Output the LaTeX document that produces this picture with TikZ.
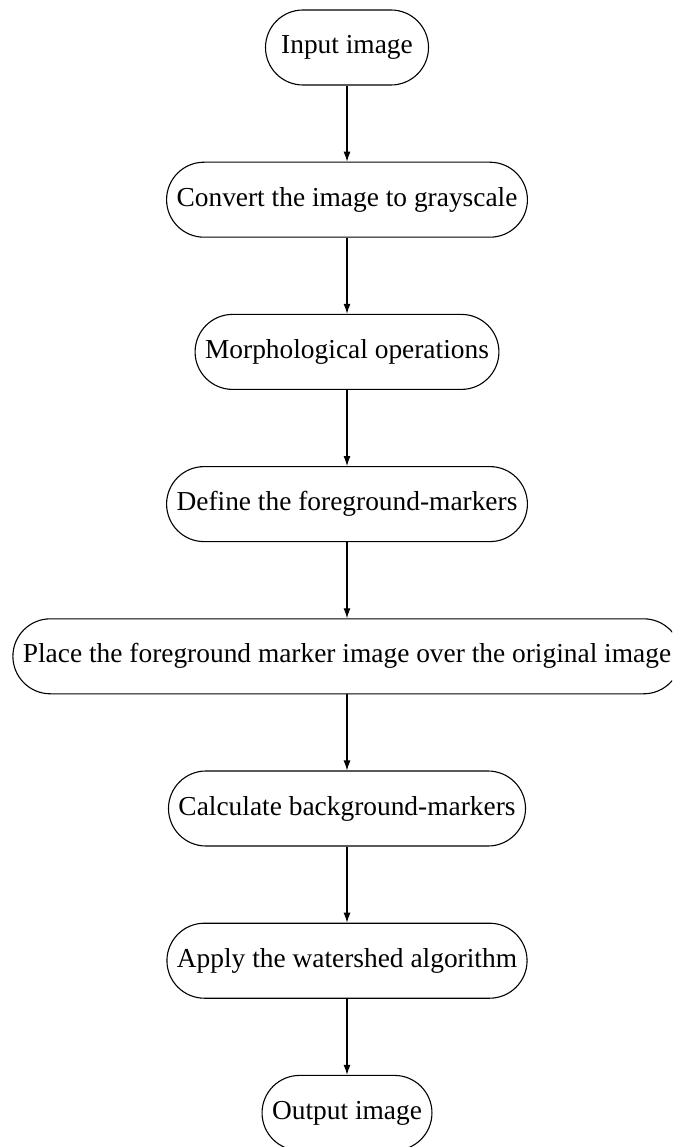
\documentclass[tikz,border=0pt]{standalone}
\usepackage{fontspec}
\setmainfont{Liberation Serif}
\usetikzlibrary{arrows.meta}
\begin{document}
\begin{tikzpicture}[x=1pt,y=1pt,
  flowbox/.style={draw, line width=1.1pt, rectangle, rounded corners=37.5pt,
    minimum height=75pt, minimum width=163pt, inner xsep=10pt,
    font=\fontsize{27.4pt}{33pt}\selectfont},
  flowarrow/.style={draw, line width=1.1pt, -{Latex[length=10pt,width=7pt]}}]
\clip (0,0) rectangle (672,-1147);
\useasboundingbox (0,0) rectangle (672,-1147);
\node[flowbox] (n1) at (347,-47.5) {Input image};
\node[flowbox] (n2) at (347,-199.7) {Convert the image to grayscale};
\node[flowbox] (n3) at (347,-351.9) {Morphological operations};
\node[flowbox] (n4) at (347,-504.1) {Define the foreground-markers};
\node[flowbox] (n5) at (347,-656.3) {Place the foreground marker image over the original image};
\node[flowbox] (n6) at (347,-808.5) {Calculate background-markers};
\node[flowbox] (n7) at (347,-960.7) {Apply the watershed algorithm};
\node[flowbox] (n8) at (347,-1112.9) {Output image};
\draw[flowarrow] (n1) -- (n2);
\draw[flowarrow] (n2) -- (n3);
\draw[flowarrow] (n3) -- (n4);
\draw[flowarrow] (n4) -- (n5);
\draw[flowarrow] (n5) -- (n6);
\draw[flowarrow] (n6) -- (n7);
\draw[flowarrow] (n7) -- (n8);
\end{tikzpicture}
\end{document}
